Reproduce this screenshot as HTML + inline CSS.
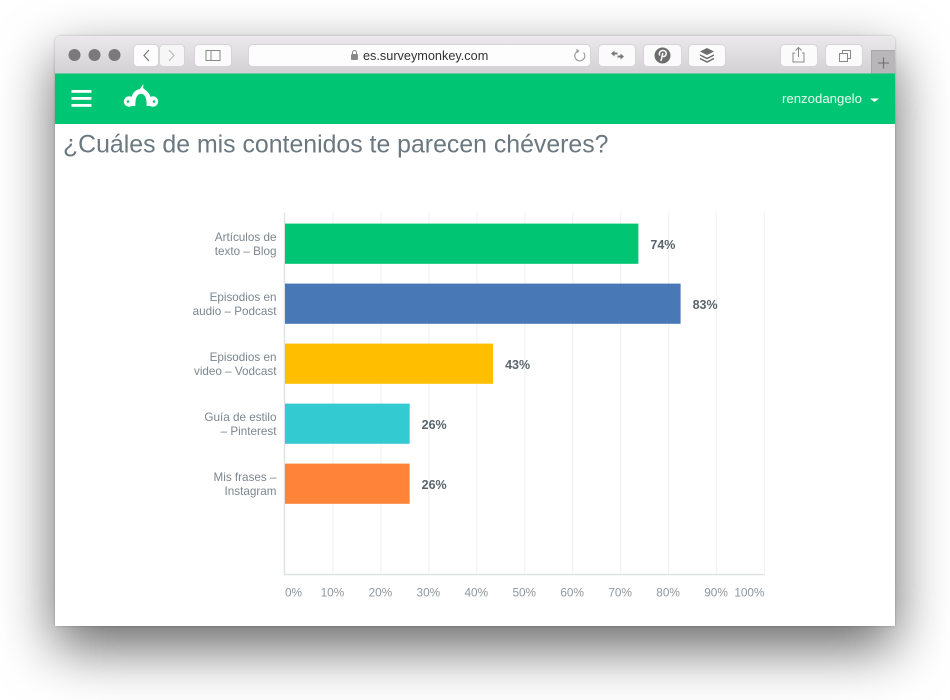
<!DOCTYPE html>
<html lang="es">
<head>
<meta charset="utf-8">
<title>Encuesta</title>
<style>
html,body{margin:0;padding:0;background:#fff;width:950px;height:700px;overflow:hidden;font-family:"Liberation Sans",sans-serif}
#win{position:absolute;left:55px;top:36px;width:840px;height:590px;border-radius:5px 5px 2px 2px;box-shadow:0 22px 56px rgba(0,0,0,.6),0 0 2px rgba(0,0,0,.25)}
#stage{position:absolute;left:0;top:0}
</style>
</head>
<body>
<div id="win"></div>
<svg id="stage" width="950" height="700" viewBox="0 0 950 700" xmlns="http://www.w3.org/2000/svg" font-family="'Liberation Sans',sans-serif">
  <defs>
    <linearGradient id="tb" x1="0" y1="0" x2="0" y2="1"><stop offset="0" stop-color="#ebe9eb"/><stop offset="1" stop-color="#d2d0d2"/></linearGradient>
  </defs>
  <g>
    <path d="M55 74V41a5 5 0 0 1 5-5H890a5 5 0 0 1 5 5V74Z" fill="url(#tb)"/>
    <circle cx="74.500" cy="55" r="6" fill="#7a7a7a"/>
    <circle cx="94.500" cy="55" r="6" fill="#7a7a7a"/>
    <circle cx="114.500" cy="55" r="6" fill="#7a7a7a"/>
    <g>
      <rect x="133.500" y="44.500" width="25" height="22" rx="4" fill="#fdfdfd" stroke="#d6d4d6"/>
      <path d="M149 50l-5 5.500 5 5.500" fill="none" stroke="#777" stroke-width="1.200"/>
    </g>
    <g>
      <rect x="159.500" y="44.500" width="25" height="22" rx="4" fill="#f6f6f6" stroke="#d6d4d6"/>
      <path d="M169 50l5 5.500-5 5.500" fill="none" stroke="#bbb" stroke-width="1.200"/>
    </g>
    <g>
      <rect x="194.500" y="44.500" width="37" height="22" rx="4" fill="#fbfbfb" stroke="#d6d4d6"/>
      <rect x="206" y="50.500" width="14" height="10" fill="none" stroke="#888"/>
      <path d="M211 50.500v10" stroke="#888"/>
    </g>
    <g>
      <rect x="248.500" y="44.500" width="342" height="22" rx="4" fill="#fdfdfd" stroke="#d6d4d6"/>
      <rect x="351" y="54" width="7" height="6" rx="1" fill="#8a8a8a"/>
      <path d="M352.500 54v-1.500a2 2 0 0 1 4 0V54" fill="none" stroke="#8a8a8a"/>
      <text x="363" y="60" font-size="12.700" fill="#333">es.surveymonkey.com</text>
      <path d="M583.500 52.500a5 5 0 1 1-5-1.500" fill="none" stroke="#999" stroke-width="1.100"/>
      <path d="M576.500 48.500l3 2.500-3 2.500z" fill="#999"/>
    </g>
    <g>
      <rect x="598.500" y="44.500" width="37" height="22" rx="4" fill="#fbfbfb" stroke="#d6d4d6"/>
      <path d="M611 53.500l3.500-3v2h3v2h-3v2zM624 56.500l-3.500-3v2h-3v2h3v2z" fill="#777"/>
    </g>
    <g>
      <rect x="643.500" y="44.500" width="38" height="22" rx="4" fill="#fbfbfb" stroke="#d6d4d6"/>
      <circle cx="662.500" cy="55.500" r="8" fill="#6d6d6d"/>
      <path d="M661 61l1.800-8M659.800 55.500c-1.500-3 1-5 3-5 3 0 4 2.500 3 4.500-1 2-3 1.800-3.500.8" fill="none" stroke="#fbfbfb" stroke-width="1.500"/>
    </g>
    <g>
      <rect x="688.500" y="44.500" width="37" height="22" rx="4" fill="#fbfbfb" stroke="#d6d4d6"/>
      <path d="M707 48l7 3.500-7 3.500-7-3.500z" fill="#6d6d6d"/>
      <path d="M700 55l7 3.500 7-3.500M700 58.500l7 3.500 7-3.500" fill="none" stroke="#6d6d6d" stroke-width="1.500"/>
    </g>
    <g>
      <rect x="780.500" y="44.500" width="37" height="22" rx="4" fill="#fbfbfb" stroke="#d6d4d6"/>
      <path d="M795 53h-2v9h11v-9h-2M798.500 57v-9M795.500 50.500l3-3 3 3" fill="none" stroke="#888"/>
    </g>
    <g>
      <rect x="825.500" y="44.500" width="37" height="22" rx="4" fill="#fbfbfb" stroke="#d6d4d6"/>
      <rect x="839.500" y="53.500" width="8" height="8" fill="none" stroke="#888"/>
      <path d="M842.500 53.500v-3h8v8h-3" fill="none" stroke="#888"/>
    </g>
    <g>
      <rect x="871" y="50" width="24" height="24" fill="#b8b6b8"/>
      <path d="M871 50.500h24M871.500 50v24" stroke="#a9a7a9"/>
      <path d="M878 63h11M883.500 57.500v11" stroke="#6e6e6e" stroke-width="1.100"/>
    </g>
  </g>
  <rect x="55" y="124" width="840" height="502" fill="#fff"/>
  <g>
    <rect x="55" y="73.500" width="840" height="50.500" fill="#00c573"/>
    <g fill="#fff">
      <rect x="71.500" y="90" width="20" height="2.800"/>
      <rect x="71.500" y="97" width="20" height="2.800"/>
      <rect x="71.500" y="104" width="20" height="2.800"/>
    </g>
    <g>
      <path d="M133 106C132.500 96 136 91.500 141 91.500C146 91.500 149.500 96 149 106" fill="none" stroke="#fff" stroke-width="4.800"/>
      <path d="M139 90l4.500-6-.5 4 2.500 2z" fill="#fff"/>
      <circle cx="129" cy="101.500" r="5.200" fill="#fff"/>
      <circle cx="153" cy="101.500" r="5.200" fill="#fff"/>
      <circle cx="128" cy="101.500" r="1.300" fill="#00c573"/>
      <circle cx="154" cy="101.500" r="1.300" fill="#00c573"/>
    </g>
    <text x="782" y="103" font-size="13.200" fill="#e9fbf2">renzodangelo</text>
    <path d="M870 98.500h9l-4.500 3.500z" fill="#fff"/>
  </g>
  <text x="63" y="152.500" font-size="24.850" fill="#6b787f">¿Cuáles de mis contenidos te parecen chéveres?</text>
  <g id="chart"></g>
</svg>
<script>
const categories = [
  ["Artículos de", "texto – Blog"],
  ["Episodios en", "audio – Podcast"],
  ["Episodios en", "video – Vodcast"],
  ["Guía de estilo", "– Pinterest"],
  ["Mis frases –", "Instagram"]
];
const seriesValues = [73.7, 82.5, 43.4, 26, 26];
const barColors = ["#00c573", "#4879b6", "#ffbe00", "#33cbd1", "#ff8439"];
const tickValues = [0, 10, 20, 30, 40, 50, 60, 70, 80, 90, 100];
const tickLabels = ["0%", "10%", "20%", "30%", "40%", "50%", "60%", "70%", "80%", "90%", "100%"];

const NS = "http://www.w3.org/2000/svg";
const chart = document.getElementById("chart");
const plotLeft = 285, plotRight = 764.5, plotTop = 213.7, plotBottom = 575;
const slotHeight = 60, barHeight = 40.2;
function xScale(v) { return plotLeft + (plotRight - plotLeft) * v / 100; }
function bandY(i) { return plotTop + slotHeight * i + (slotHeight - barHeight) / 2; }
function make(tag, attrs, text) {
  const el = document.createElementNS(NS, tag);
  for (const k in attrs) el.setAttribute(k, attrs[k]);
  if (text !== undefined) el.textContent = text;
  chart.appendChild(el);
  return el;
}

tickValues.forEach(function (v, i) {
  if (v === 0) return;
  const grid = make("line", { x1: xScale(v), x2: xScale(v), y1: plotTop - 1, y2: plotBottom, stroke: "#f1f2f3", "stroke-width": 1.2 });
  
  
});

const yAxis = make("line", { x1: plotLeft - 0.5, x2: plotLeft - 0.5, y1: plotTop - 1, y2: plotBottom, stroke: "#dfe2e4", "stroke-width": 1.5 });


const xAxis = make("line", { x1: plotLeft - 1, x2: plotRight, y1: plotBottom - 0.5, y2: plotBottom - 0.5, stroke: "#dfe2e4", "stroke-width": 1.5 });



tickValues.forEach(function (v, i) {
  const first = i === 0, last = i === tickValues.length - 1;
  const tick = make("text", {
    x: first ? plotLeft : last ? plotRight : xScale(v) - 0.5,
    y: 596.5,
    "font-size": 11.8,
    fill: "#8d979e",
    "text-anchor": first ? "start" : last ? "end" : "middle"
  }, tickLabels[i]);
  
  
});

categories.forEach(function (lines, i) {
  const y = bandY(i);
  lines.forEach(function (line, j) {
    const label = make("text", { x: 276.5, y: y + 17.4 + j * 14, "font-size": 11.7, fill: "#7b868e", "text-anchor": "end" }, line);
    
    
  });
  const bar = make("rect", { x: plotLeft, y: y, width: xScale(seriesValues[i]) - plotLeft, height: barHeight, fill: barColors[i] });
  
  
  const value = make("text", { x: xScale(seriesValues[i]) + 12, y: y + 25.2, "font-size": 12.5, "font-weight": 700, fill: "#59646c" }, Math.round(seriesValues[i]) + "%");
  
  
});
</script>
</body>
</html>
